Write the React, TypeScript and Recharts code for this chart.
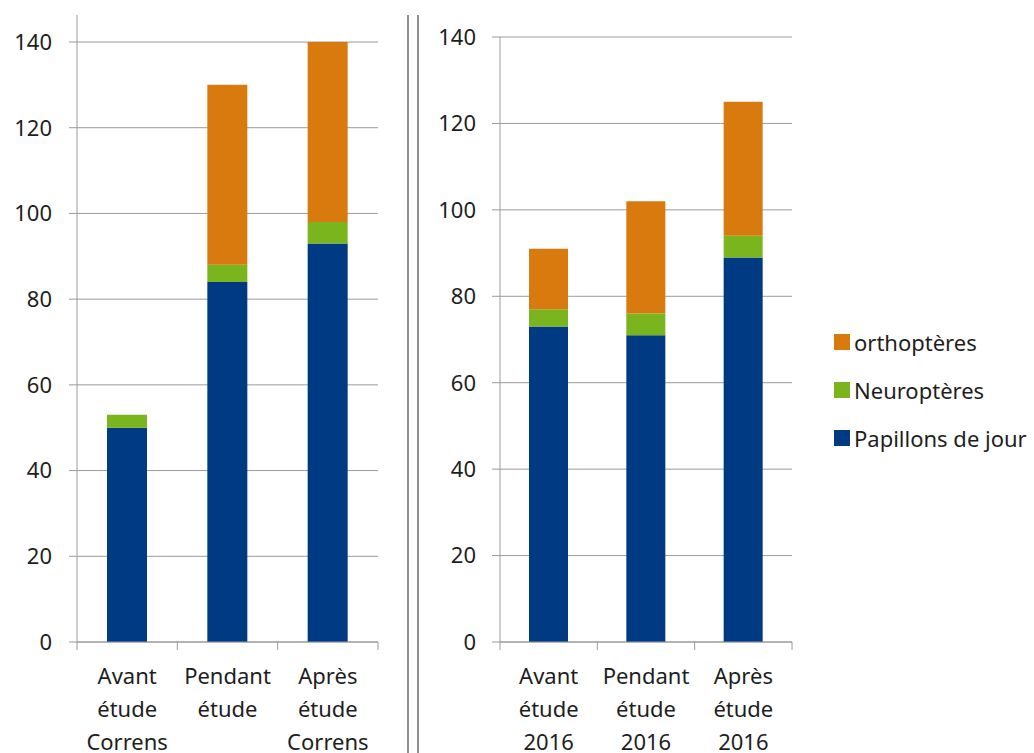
import { BarChart, Bar, XAxis, YAxis, CartesianGrid, Legend } from "recharts";

const categoriesCorrens = ["Avant\nétude\nCorrens", "Pendant\nétude", "Après\nétude\nCorrens"];
const papillonsCorrens = [50, 84, 93];
const neuropteresCorrens = [3, 4, 5];
const orthopteresCorrens = [0, 42, 42];

const categories2016 = ["Avant\nétude\n2016", "Pendant\nétude\n2016", "Après\nétude\n2016"];
const papillons2016 = [73, 71, 89];
const neuropteres2016 = [4, 5, 5];
const orthopteres2016 = [14, 26, 31];

const yTicks = [0, 20, 40, 60, 80, 100, 120, 140];
// category slots: boundaries on integers, labels on the halves
const xTicks = [0, 0.5, 1, 1.5, 2, 2.5, 3];
const legendOrder = ["orthoptères", "Neuroptères", "Papillons de jour"];

const BLUE = "#003a82";
const GREEN = "#7ab51d";
const ORANGE = "#d87a0e";
const GRID = "#9a9a9a";
const TEXT = "#1e1e1e";
const FONT = "'Noto Sans', sans-serif";
const LEGEND_W = 200;

const buildData = (cats: string[], pap: number[], neu: number[], ort: number[]) =>
  cats.map((c, i) => ({ slot: i + 0.5, cat: c, papillons: pap[i], neuropteres: neu[i], orthopteres: ort[i] }));

const dataCorrens = buildData(categoriesCorrens, papillonsCorrens, neuropteresCorrens, orthopteresCorrens);
const data2016 = buildData(categories2016, papillons2016, neuropteres2016, orthopteres2016);

function makeTick(cats: string[]) {
  return function SlotTick({ x, y, payload }: any) {
    const v = Number(payload.value);
    if (Number.isInteger(v)) {
      return <line x1={x} x2={x} y1={y} y2={y + 8} stroke={GRID} />;
    }
    const lines = (cats[Math.floor(v)] || "").split("\n");
    return (
      <text x={x} textAnchor="middle" fill={TEXT} fontSize={22} fontFamily={FONT}>
        {lines.map((l, i) => (
          <tspan key={i} x={x} y={y + 42 + i * 33}>
            {l}
          </tspan>
        ))}
      </text>
    );
  };
}

function LegendBox({ payload }: any) {
  const items = [...(payload || [])].sort(
    (a: any, b: any) => legendOrder.indexOf(a.value) - legendOrder.indexOf(b.value)
  );
  return (
    <div style={{ fontFamily: FONT, fontSize: 22, color: TEXT }}>
      {items.map((it: any) => (
        <div key={it.value} style={{ display: "flex", alignItems: "center", height: 48, whiteSpace: "nowrap" }}>
          <span style={{ width: 16, height: 16, background: it.color, marginRight: 4, display: "inline-block" }} />
          <span>{it.value}</span>
        </div>
      ))}
    </div>
  );
}

function Panel({
  data,
  cats,
  width,
  yWidth,
  margin,
  domainMax,
  barSize,
  tickMargin,
  legend,
}: {
  data: any[];
  cats: string[];
  width: number;
  yWidth: number;
  margin: { top: number; right: number; bottom: number; left: number };
  domainMax: number;
  barSize: number;
  tickMargin: number;
  legend?: boolean;
}) {
  const Tick = makeTick(cats);
  return (
    <BarChart width={width} height={753} data={data} margin={margin} barSize={barSize}>
      <CartesianGrid stroke={GRID} vertical={false} horizontalValues={yTicks} syncWithTicks />
      <XAxis
        dataKey="slot"
        type="number"
        domain={[0, 3]}
        ticks={xTicks}
        allowDataOverflow
        interval={0}
        height={111}
        tickSize={0}
        tickMargin={0}
        axisLine={{ stroke: GRID }}
        tickLine={false}
        tick={<Tick />}
      />
      <YAxis
        width={yWidth}
        domain={[0, domainMax]}
        ticks={yTicks}
        allowDataOverflow
        tickSize={8}
        tickMargin={tickMargin}
        axisLine={{ stroke: GRID }}
        tickLine={{ stroke: GRID }}
        tick={{ fill: TEXT, fontSize: 22, fontFamily: FONT }}
      />
      <Bar dataKey="papillons" name="Papillons de jour" stackId="a" fill={BLUE} isAnimationActive={false} />
      <Bar dataKey="neuropteres" name="Neuroptères" stackId="a" fill={GREEN} isAnimationActive={false} />
      <Bar dataKey="orthopteres" name="orthoptères" stackId="a" fill={ORANGE} isAnimationActive={false} />
      {legend && (
        <Legend
          layout="vertical"
          verticalAlign="middle"
          align="right"
          wrapperStyle={{ left: 414, top: 318, width: LEGEND_W, right: "auto", bottom: "auto" }}
          content={<LegendBox />}
        />
      )}
    </BarChart>
  );
}

export default function App() {
  return (
    <div style={{ position: "absolute", left: 0, top: 0, width: 1034, height: 753, background: "#fff", overflow: "hidden" }}>
      <div style={{ position: "absolute", left: 0, top: 0 }}>
        <Panel
          data={dataCorrens}
          cats={categoriesCorrens}
          width={405}
          yWidth={77}
          margin={{ top: 15, right: 27, bottom: 0, left: 0 }}
          domainMax={146.3}
          barSize={40}
          tickMargin={17}
        />
      </div>
      <div style={{ position: "absolute", left: 407, top: 15, width: 2, height: 738, background: "#8f8f8f" }} />
      <div style={{ position: "absolute", left: 417, top: 15, width: 2, height: 738, background: "#8f8f8f" }} />
      <div style={{ position: "absolute", left: 420, top: 0 }}>
        <Panel
          data={data2016}
          cats={categories2016}
          width={614}
          yWidth={80}
          // the legend's own width is taken off the right side by the chart
          margin={{ top: 37, right: 242 - LEGEND_W, bottom: 0, left: 0 }}
          domainMax={140}
          barSize={39}
          tickMargin={16}
          legend
        />
      </div>
    </div>
  );
}
